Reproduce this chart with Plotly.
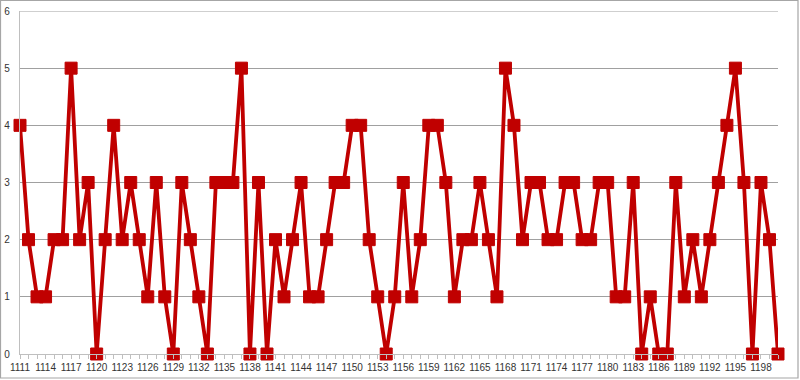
import plotly.graph_objects as go

years = list(range(1111, 1201))
values = [
    4, 2, 1, 1, 2, 2, 5, 2, 3, 0,   # 1111-1120
    2, 4, 2, 3, 2, 1, 3, 1, 0, 3,   # 1121-1130
    2, 1, 0, 3, 3, 3, 5, 0, 3, 0,   # 1131-1140
    2, 1, 2, 3, 1, 1, 2, 3, 3, 4,   # 1141-1150
    4, 2, 1, 0, 1, 3, 1, 2, 4, 4,   # 1151-1160
    3, 1, 2, 2, 3, 2, 1, 5, 4, 2,   # 1161-1170
    3, 3, 2, 2, 3, 3, 2, 2, 3, 3,   # 1171-1180
    1, 1, 3, 0, 1, 0, 0, 3, 1, 2,   # 1181-1190
    1, 2, 3, 4, 5, 3, 0, 3, 2, 0,   # 1191-1200
]
tick_years = list(range(1111, 1201, 3))
tick_labels = [str(y) for y in tick_years]
y_ticks = [0, 1, 2, 3, 4, 5, 6]

RED = "#C00000"

fig = go.Figure()
fig.add_trace(go.Scatter(
    x=years, y=values, mode="lines+markers",
    line=dict(color=RED, width=3.8),
    marker=dict(symbol="square", size=12, color=RED, line=dict(color=RED, width=1)),
    cliponaxis=False, showlegend=False,
))

L, R, T, B = 20, 22, 11, 26
pw, ph = 800 - L - R, 380 - T - B

fig.update_layout(
    width=800, height=380,
    margin=dict(l=L, r=R, t=T, b=B),
    paper_bgcolor="white", plot_bgcolor="white",
    font=dict(family="Liberation Sans, Arial, sans-serif", size=10, color="#333333"),
    shapes=[dict(
        type="rect", xref="paper", yref="paper",
        x0=(0.5 - L) / pw, x1=(798 - L) / pw,
        y0=(380 - B - 378) / ph, y1=(380 - B - 0.5) / ph,
        line=dict(color="#A6A6A6", width=1.2), fillcolor="rgba(0,0,0,0)", layer="below",
    )],
)
fig.update_xaxes(
    range=[1111, 1200], tickmode="array", tickvals=tick_years, ticktext=tick_labels,
    automargin=False,
    showgrid=False, zeroline=False,
    showline=True, linecolor="#BFBFBF", linewidth=1.2,
    ticks="outside", ticklen=4, tickcolor="#BFBFBF",
    minor=dict(dtick=1, tick0=1111, ticks="outside", ticklen=4, tickcolor="#BFBFBF", showgrid=False),
    tickfont=dict(size=10, color="#333333"),
)
fig.update_yaxes(
    range=[0, 6], tickvals=y_ticks, automargin=False,
    showgrid=True, gridcolor="#A0A0A0", gridwidth=1,
    zeroline=False, showline=True, linecolor="#BFBFBF", linewidth=1.2,
    ticks="", ticklabelstandoff=7,
    tickfont=dict(size=10, color="#333333"),
)
fig.add_hline(y=6, line=dict(color="#A0A0A0", width=1), layer="below")
fig.write_html("out.html")
